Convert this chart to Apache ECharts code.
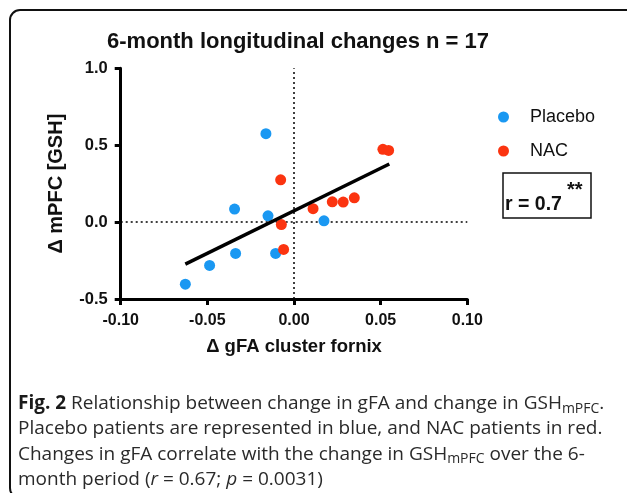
<!DOCTYPE html>
<html>
<head>
<meta charset="utf-8">
<script src="https://cdn.jsdelivr.net/npm/echarts@6/dist/echarts.min.js"></script>
<style>
html,body{margin:0;padding:0;background:#fff;}
#c{width:627px;height:493px;}
</style>
</head>
<body>
<div id="c"></div>
<script>
// ---- data ----
var placeboX = [-0.0162, -0.0343, -0.0150, 0.0173, -0.0337, -0.0106, -0.0487, -0.0627];
var placeboY = [0.575, 0.085, 0.041, 0.008, -0.204, -0.204, -0.282, -0.404];
var nacX = [-0.0077, -0.0073, -0.0060, 0.0110, 0.0221, 0.0284, 0.0348, 0.0513, 0.0546];
var nacY = [0.275, -0.016, -0.178, 0.087, 0.132, 0.130, 0.158, 0.473, 0.466];
var fitX = [-0.0627, 0.0550];
var fitY = [-0.273, 0.378];
var xTicks = [-0.10, -0.05, 0.00, 0.05, 0.10];
var yTicks = [-0.5, 0.0, 0.5, 1.0];
var seriesNames = ['Placebo', 'NAC'];
var titleText = '6-month longitudinal changes n = 17';
var xName = '\u0394 gFA cluster fornix';
var yName = '\u0394 mPFC [GSH]';
var rText = 'r = 0.7';
var sigText = '**';

function pairs(xs, ys) { return xs.map(function (x, i) { return [x, ys[i]]; }); }

var BLUE = '#1a98f2';
var RED = '#fb3410';
var AX = "'Liberation Sans', Arial, sans-serif";
var CAP = "'Open Sans', 'Noto Sans', sans-serif";

var chart = echarts.init(document.getElementById('c'), null, {renderer: 'canvas'});
var option = {
  backgroundColor: '#ffffff',
  animation: false,
  title: {
    text: titleText,
    left: 293, top: 26, textAlign: 'center',
    textStyle: {fontFamily: AX, fontWeight: 'bold', fontSize: 22, color: '#111'}
  },
  legend: {
    orient: 'vertical', left: 498, top: 108, padding: 0,
    itemWidth: 11, itemHeight: 11, itemGap: 16,
    icon: 'circle',
    data: seriesNames,
    textStyle: {fontFamily: AX, fontSize: 18, color: '#111', padding: [0, 0, 0, 16]}
  },
  grid: {left: 120.7, right: 159.7, top: 68.3, bottom: 194},
  xAxis: {
    type: 'value', min: xTicks[0], max: xTicks[xTicks.length - 1], interval: 0.05,
    name: xName, nameLocation: 'middle', nameGap: 38, nameMoveOverlap: false,
    nameTextStyle: {fontFamily: AX, fontWeight: 'bold', fontSize: 18.5, color: '#111'},
    axisLine: {onZero: false, lineStyle: {color: '#000', width: 3}},
    axisTick: {length: 6, lineStyle: {width: 3, color: '#000'}},
    splitLine: {show: false},
    axisLabel: {fontFamily: AX, fontWeight: 'bold', fontSize: 16, color: '#111', margin: 14,
      formatter: function (v) { return v.toFixed(2); }}
  },
  yAxis: {
    type: 'value', min: yTicks[0], max: yTicks[yTicks.length - 1], interval: 0.5,
    name: yName, nameLocation: 'middle', nameGap: 54, nameMoveOverlap: false,
    nameTextStyle: {fontFamily: AX, fontWeight: 'bold', fontSize: 20, color: '#111'},
    axisLine: {onZero: false, lineStyle: {color: '#000', width: 3}},
    axisTick: {length: 6, lineStyle: {width: 3, color: '#000'}},
    splitLine: {show: false},
    axisLabel: {fontFamily: AX, fontWeight: 'bold', fontSize: 16.5, color: '#111', margin: 13,
      formatter: function (v) { return v.toFixed(1); }}
  },
  series: [
    {
      name: seriesNames[0], type: 'scatter', symbolSize: 11,
      itemStyle: {color: BLUE, opacity: 1}, z: 3,
      data: pairs(placeboX, placeboY),
      markLine: {
        silent: true, symbol: 'none', label: {show: false},
        lineStyle: {type: [2, 3], color: '#000', width: 1.5},
        data: [{xAxis: 0}, {yAxis: 0}], z: 1
      }
    },
    {
      name: seriesNames[1], type: 'scatter', symbolSize: 11,
      itemStyle: {color: RED, opacity: 1}, z: 3,
      data: pairs(nacX, nacY)
    },
    {
      name: 'fit', type: 'line', symbol: 'none', z: 4,
      lineStyle: {color: '#000', width: 3.5}, silent: true,
      data: pairs(fitX, fitY)
    }
  ],
  graphic: [
    {type: 'rect', silent: true, z: -1,
      shape: {x: 10, y: 10, width: 700, height: 488, r: 10},
      style: {fill: 'none', stroke: '#111', lineWidth: 2}},
    {type: 'rect', silent: true,
      shape: {x: 503, y: 173, width: 88, height: 45},
      style: {fill: '#fff', stroke: '#111', lineWidth: 1.5}},
    {type: 'text', left: 567, top: 180, silent: true,
      style: {text: sigText, font: "bold 20px " + AX, fill: '#111'}},
    {type: 'text', left: 505, top: 195, silent: true,
      style: {text: rText, font: "bold 19.5px " + AX, fill: '#111'}},
    {type: 'text', left: 18, top: 391, silent: true,
      style: {
        text: '{b|Fig. 2} Relationship between change in gFA and change in GSH{s|mPFC}.\n' +
              'Placebo patients are represented in blue, and NAC patients in red.\n' +
              'Changes in gFA correlate with the change in GSH{s|mPFC} over the 6-\n' +
              'month period ({i|r} = 0.67; {i|p} = 0.0031)',
        font: "19px " + CAP, fill: '#2a2a2a', lineHeight: 25.3,
        rich: {
          b: {fontFamily: CAP, fontWeight: 'bold', fontSize: 19, fill: '#1a1a1a', lineHeight: 25.3},
          s: {fontFamily: CAP, fontSize: 14, fill: '#2a2a2a', padding: [10, 0, 0, 0], lineHeight: 25.3},
          i: {fontFamily: CAP, fontStyle: 'italic', fontSize: 19, fill: '#2a2a2a', lineHeight: 25.3}
        }
      }}
  ]
};
chart.setOption(option);
</script>
</body>
</html>
